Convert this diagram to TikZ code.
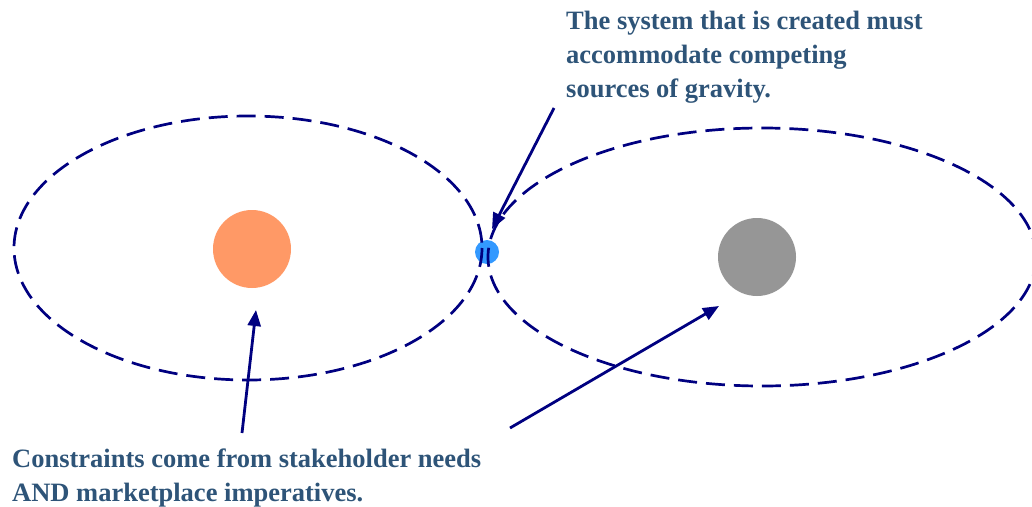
\documentclass[tikz,border=0pt]{standalone}
\usepackage{fontspec}
\setmainfont{Liberation Serif}
\usetikzlibrary{arrows.meta}
\definecolor{navy}{HTML}{000080}
\definecolor{txtblue}{HTML}{2E5478}
\definecolor{orangec}{HTML}{FF9966}
\definecolor{grayc}{HTML}{969696}
\definecolor{bluec}{HTML}{3399FF}
\tikzset{
  orbit/.style={draw=navy, line width=2.7pt, dash pattern=on 19pt off 9pt},
  body/.style={circle, inner sep=0pt, draw=none},
  pointer/.style={draw=navy, line width=2.8pt, -{Triangle[length=16pt,width=13pt]}},
  label/.style={text=txtblue, font=\bfseries\fontsize{26.5}{33.8}\selectfont, align=left, inner sep=0pt, anchor=base west}
}
\begin{document}
\begin{tikzpicture}[x=1pt,y=-1pt]
\useasboundingbox (0,0) rectangle (1032,506);
% bodies
\node[body, fill=orangec, minimum size=78pt] (sun1) at (252,249) {};
\node[body, fill=grayc, minimum size=78pt] (sun2) at (757,257) {};
\node[body, fill=bluec, minimum size=24pt] (sys) at (487,252) {};
% orbits
\draw[orbit] (248,248) ellipse [x radius=234, y radius=132];
\draw[orbit] (762,257) ellipse [x radius=274, y radius=129];
% texts (base anchor = last line baseline)
\node[label] (top) at (566,97) {The system that is created must\\accommodate competing\\sources of gravity.};
\node[label] (bot) at (12,501) {Constraints come from stakeholder needs\\AND marketplace imperatives.};
% arrows
\coordinate (a1) at (554,108);
\coordinate (t1) at (492,229);
\coordinate (a2) at (242,433);
\coordinate (t2) at (256,310);
\coordinate (a3) at (510,428);
\coordinate (t3) at (719,306);
\draw[pointer] (a1) -- (t1);
\draw[pointer] (a2) -- (t2);
\draw[pointer] (a3) -- (t3);
\end{tikzpicture}
\end{document}
